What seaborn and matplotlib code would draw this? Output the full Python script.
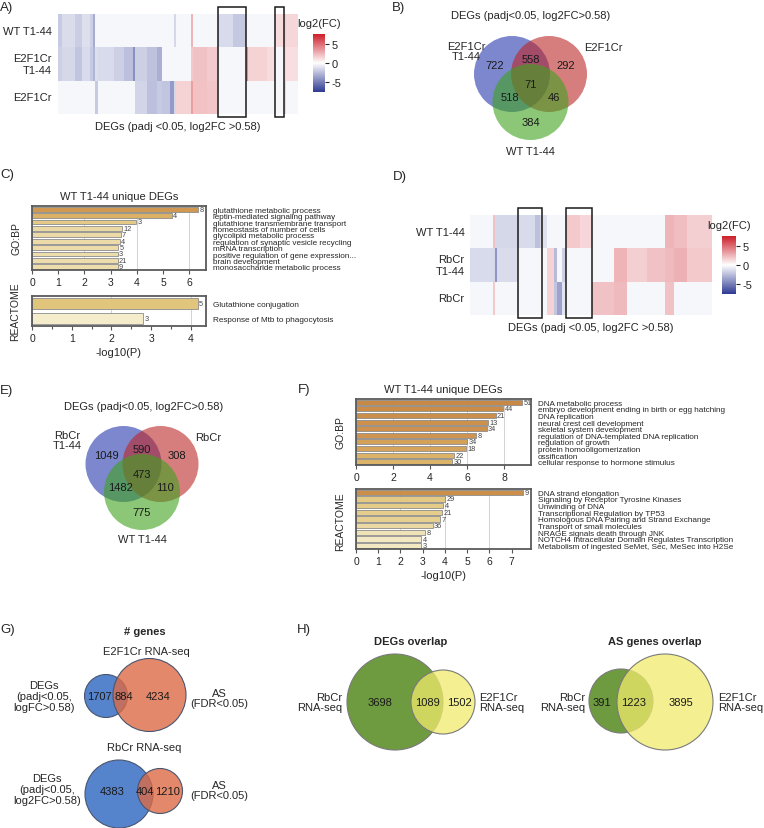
import numpy as np
import pandas as pd
import matplotlib
matplotlib.use("Agg")
import matplotlib.pyplot as plt
import seaborn as sns
from matplotlib.patches import Circle, Rectangle
from matplotlib.colors import LinearSegmentedColormap, to_rgba

# ---------------- data ----------------
# A) heatmap: blocks of DEGs (genes per block) and log2FC per row
a_rows = ["WT T1-44", "E2F1Cr\nT1-44", "E2F1Cr"]
a_genes = [47, 143, 72, 90, 29, 25, 25, 172, 107, 100, 25, 125, 107, 54, 90,
           43, 18, 161, 21, 150, 125, 161, 132, 29, 197, 90, 90, 29, 132]
a_wt = [-2.0, -1.3, -1.9, -1.2, -1.8, -3.2, -0.3, -0.3, -0.3, -0.3, -0.3, -0.3, -0.3, -0.3, -0.3,
        -0.3, -1.5, -0.3, 2.5, -0.3, -0.3, -1.4, -2.1, -0.3, -0.3, -0.3, 1.2, 1.6, 1.3]
a_e2t = [-1.8, -1.5, -2.2, -1.4, -2.0, -2.8, -1.2, -1.4, -1.8, -2.4, -4.2, -1.8, -2.3, -3.0, -0.3,
         -0.3, -0.3, -0.3, 1.8, 2.0, 1.7, -0.3, -0.3, 4.0, 1.5, 1.2, -0.3, 1.3, 1.1]
a_e2 = [-0.3, -0.3, -0.3, -0.3, -0.3, -0.3, -2.0, -0.3, -0.3, -0.3, -0.3, -1.6, -2.4, -2.0, -2.2,
        -3.8, -1.5, 1.5, 3.2, 2.1, 1.9, -0.3, -0.3, -0.3, -0.3, -0.3, -0.3, 1.5, -0.3]
a_boxes = [(21, 23), (26, 27)]  # WT T1-44 unique blocks

# D) heatmap
d_rows = ["WT T1-44", "RbCr\nT1-44", "RbCr"]
d_genes = [462, 33, 46, 416, 330, 99, 46, 86, 145, 53, 99, 86, 277, 244, 416, 264, 396, 363, 165, 264, 495]
d_wt = [-0.3, 2.0, -1.5, -1.5, -1.4, -2.4, -1.6, -1.1, -0.3, -0.3, -0.3, -0.3, 1.8, 1.4, -0.3,
        -0.3, -0.3, -0.3, 2.5, 2.2, 1.6]
d_rbt = [-1.4, -1.5, -4.0, -1.3, -0.3, -0.3, -0.3, -0.3, 1.5, -2.6, -0.3, -1.8, -0.3, -0.3, -0.3,
         2.5, 1.6, 2.0, 2.3, 2.6, 1.8]
d_rb = [-0.3, 1.8, -0.3, -0.3, -0.3, -0.3, -0.3, -0.3, 1.5, -2.2, -3.5, -1.0, -0.3, -0.3, 2.0,
        2.3, -0.3, -0.3, 2.0, -0.3, -0.3]
d_boxes = [(4, 7), (12, 14)]

# B) / E) three-way Venn counts: A, AB, B, AC, ABC, BC, C
b_sets = ["E2F1Cr\nT1-44", "E2F1Cr", "WT T1-44"]
b_counts = [722, 558, 292, 518, 71, 46, 384]
e_sets = ["RbCr\nT1-44", "RbCr", "WT T1-44"]
e_counts = [1049, 590, 308, 1482, 473, 110, 775]

# C) enrichment, WT T1-44 unique DEGs
c_bp_terms = ["glutathione metabolic process", "leptin-mediated signaling pathway",
              "glutathione transmembrane transport", "homeostasis of number of cells",
              "glycolipid metabolic process", "regulation of synaptic vesicle recycling",
              "mRNA transcription", "positive regulation of gene expression...",
              "brain development", "monosaccharide metabolic process"]
c_bp_logp = [6.35, 5.34, 3.98, 3.43, 3.39, 3.34, 3.30, 3.28, 3.27, 3.27]
c_bp_genes = [8, 4, 3, 12, 7, 4, 5, 3, 21, 9]
c_re_terms = ["Glutathione conjugation", "Response of Mtb to phagocytosis"]
c_re_logp = [4.17, 2.80]
c_re_genes = [5, 3]

# F) enrichment
f_bp_terms = ["DNA metabolic process", "embryo development ending in birth or egg hatching",
              "DNA replication", "neural crest cell development", "skeletal system development",
              "regulation of DNA-templated DNA replication", "regulation of growth",
              "protein homooligomerization", "ossification", "cellular response to hormone stimulus"]
f_bp_logp = [9.0, 7.97, 7.55, 7.12, 7.06, 6.49, 6.02, 5.95, 5.30, 5.20]
f_bp_genes = [51, 44, 21, 13, 34, 8, 34, 18, 22, 30]
f_re_terms = ["DNA strand elongation", "Signaling by Receptor Tyrosine Kinases", "Unwinding of DNA",
              "Transcriptional Regulation by TP53", "Homologous DNA Pairing and Strand Exchange",
              "Transport of small molecules", "NRAGE signals death through JNK",
              "NOTCH4 Intracellular Domain Regulates Transcription",
              "Metabolism of ingested SeMet, Sec, MeSec into H2Se"]
f_re_logp = [7.52, 4.0, 3.93, 3.88, 3.78, 3.45, 3.10, 2.93, 2.93]
f_re_genes = [9, 29, 4, 21, 7, 36, 8, 4, 3]

# G) DEGs vs AS genes (only, both, only)
g_top_sets = ["DEGs\n(padj<0.05,\nlogFC>0.58)", "AS\n(FDR<0.05)"]
g_top_counts = [1707, 884, 4234]
g_bot_sets = ["DEGs\n(padj<0.05,\nlog2FC>0.58)", "AS\n(FDR<0.05)"]
g_bot_counts = [4383, 404, 1210]

# H) RbCr vs E2F1Cr
h_sets = ["RbCr\nRNA-seq", "E2F1Cr\nRNA-seq"]
h_deg_counts = [3698, 1089, 1502]
h_as_counts = [391, 1223, 3895]

# ---------------- figure ----------------
W, H = 764, 829
sns.set_style("white")
plt.rcParams["font.family"] = ["Liberation Sans", "DejaVu Sans"]
plt.rcParams["axes.unicode_minus"] = False

fc_cmap = LinearSegmentedColormap.from_list("fc", ["#2e3a92", "#ffffff", "#cc1f2a"])
bar_cmap = LinearSegmentedColormap.from_list(
    "enrich", [(0.0, "#fdf8d8"), (0.13, "#f8e2a0"), (0.28, "#f3cc6a"),
               (0.5, "#eeb450"), (0.67, "#e4963a"), (1.0, "#df8a30")])
bar_norm = plt.Normalize(2.5, 8.5, clip=True)

fig = plt.figure(figsize=(W / 100, H / 100), dpi=100)


def px_axes(x0, y0, x1, y1):
    return fig.add_axes([x0 / W, 1 - y1 / H, (x1 - x0) / W, (y1 - y0) / H])


ov = px_axes(0, 0, W, H)
ov.set_xlim(0, W)
ov.set_ylim(H, 0)
ov.axis("off")


def heatmap_panel(box, cbox, rows, genes, values, boxes):
    ax = px_axes(*box)
    cax = px_axes(*cbox)
    mat = np.repeat(np.array(values, dtype=float), genes, axis=1)
    df = pd.DataFrame(mat, index=rows)
    sns.heatmap(df, ax=ax, cbar_ax=cax, cmap=fc_cmap, vmin=-7.5, vmax=7.5,
                xticklabels=False, yticklabels=rows, rasterized=True)
    ax.tick_params(axis="y", length=0, pad=4, labelsize=8)
    plt.setp(ax.get_yticklabels(), rotation=0, ha="right")
    ax.set_xlabel("DEGs (padj <0.05, log2FC >0.58)", fontsize=8, labelpad=5)
    edges = np.concatenate([[0], np.cumsum(genes)])
    for s, e in boxes:
        ax.add_patch(Rectangle((edges[s], -0.22), edges[e] - edges[s], 3.32, fill=False,
                               ec="#1a1a1a", lw=1.1, clip_on=False, zorder=5))
    cax.set_yticks([-5, 0, 5])
    cax.tick_params(labelsize=8, length=3, width=0.8, pad=2)
    cax.set_title("log2(FC)", fontsize=8, pad=6)


def bar_panel(box, terms, logp, genes, xmax, ticks, grid, minor=None, title=None, xlabel=None):
    ax = px_axes(*box)
    df = pd.DataFrame({"term": terms, "logp": logp})
    colors = [bar_cmap(bar_norm(v)) for v in logp]
    sns.barplot(data=df, x="logp", y="term", hue="term", palette=colors, legend=False,
                orient="h", width=0.78, edgecolor="#8c8c8c", linewidth=0.6, ax=ax)
    for i, (v, n) in enumerate(zip(logp, genes)):
        ax.text(v + xmax * 0.007, i, str(n), fontsize=5.3, va="center", ha="left", color="#444444")
    ax.set_axisbelow(True)
    for g in grid:
        ax.axvline(g, color="#d2d2d2", lw=0.7, zorder=0)
    ax.set_xlim(0, xmax)
    ax.set_xticks(ticks)
    if minor is not None:
        ax.set_xticks(minor, minor=True)
    ax.yaxis.tick_right()
    ax.set_yticks(range(len(terms)))
    ax.set_yticklabels(terms, fontsize=5.9, linespacing=0.9)
    ax.tick_params(axis="y", length=0, pad=5)
    ax.tick_params(axis="x", which="both", bottom=True, length=3, width=0.8, color="#555555",
                   labelsize=7.5, pad=2)
    ax.tick_params(axis="x", which="minor", length=2)
    ax.set_ylabel("")
    ax.set_xlabel(xlabel if xlabel else "", fontsize=8, labelpad=3)
    if title:
        ax.set_title(title, fontsize=8, pad=5)
    for sp in ax.spines.values():
        sp.set_color("#5a5a5a")
        sp.set_linewidth(1.3)


def venn3(centre, counts, sets, label_pos, title, title_pos):
    cx, cy = centre
    offsets = [(-18.5, -10), (18.5, -10), (0, 18)]
    colors = ["#2637ac", "#bc2626", "#3fa31e"]
    for (dx, dy), c in zip(offsets, colors):
        ov.add_patch(Circle((cx + dx, cy + dy), 38, fc=to_rgba(c, 0.6), ec="none"))
    spots = [(-36, -19), (0, -25), (35, -19), (-21, 13), (0, 0), (23, 13), (0, 38)]
    for (dx, dy), n in zip(spots, counts):
        ov.text(cx + dx, cy + dy, str(n), ha="center", va="center", fontsize=8, color="#1a1a1a")
    for (x, y), s in zip(label_pos, sets):
        ov.text(x, y, s, ha="center", va="center", fontsize=8, linespacing=1.1)
    ov.text(*title_pos, title, ha="center", va="center", fontsize=8)


def venn2(c1, r1, c2, r2, col1, col2, alpha, counts, spots, edge):
    ov.add_patch(Circle(c1, r1, fc=to_rgba(col1, alpha), ec=edge, lw=0.8))
    ov.add_patch(Circle(c2, r2, fc=to_rgba(col2, alpha), ec=edge, lw=0.8))
    for (x, y), n in zip(spots, counts):
        ov.text(x, y, str(n), ha="center", va="center", fontsize=8, color="#1a1a1a")


# panel letters
for letter, x, y in [("A)", 0, 8), ("B)", 392, 8), ("C)", 0, 175), ("D)", 393, 177),
                     ("E)", 0, 391), ("F)", 298, 390), ("G)", 0, 630), ("H)", 297, 630)]:
    ov.text(x, y, letter, ha="left", va="center", fontsize=9.5)

# A and D heatmaps
heatmap_panel((57.5, 15, 298.5, 115), (313, 35, 325, 93), a_rows, a_genes, [a_wt, a_e2t, a_e2], a_boxes)
heatmap_panel((470, 216, 712, 316), (722, 237, 736, 295), d_rows, d_genes, [d_wt, d_rbt, d_rb], d_boxes)

# B and E Venns
venn3((530.5, 85), b_counts, b_sets, [(466, 52), (603, 48), (530, 152)],
      "DEGs (padj<0.05, log2FC>0.58)", (531, 16))
venn3((142, 475), e_counts, e_sets, [(67, 441), (208, 438), (142, 540)],
      "DEGs (padj<0.05, log2FC>0.58)", (144, 407))

# C enrichment
bar_panel((32, 207, 206, 271), c_bp_terms, c_bp_logp, c_bp_genes, 6.64, range(0, 7), [2, 4, 6],
          title="WT T1-44 unique DEGs")
bar_panel((32, 297, 206, 327), c_re_terms, c_re_logp, c_re_genes, 4.38, range(0, 5), [2, 4],
          minor=np.arange(0.5, 4.4, 1), xlabel="-log10(P)")
ov.text(17, 239, "GO:BP", rotation=90, ha="center", va="center", fontsize=7.5)
ov.text(15, 312, "REACTOME", rotation=90, ha="center", va="center", fontsize=7.5)

# F enrichment
bar_panel((356, 400, 531, 466), f_bp_terms, f_bp_logp, f_bp_genes, 9.46, range(0, 10, 2), [2, 4, 6, 8],
          title="WT T1-44 unique DEGs")
bar_panel((356, 490, 531, 550), f_re_terms, f_re_logp, f_re_genes, 7.87, range(0, 8), [2, 4, 6],
          xlabel="-log10(P)")
ov.text(341, 433, "GO:BP", rotation=90, ha="center", va="center", fontsize=7.5)
ov.text(340, 522, "REACTOME", rotation=90, ha="center", va="center", fontsize=7.5)

# G
ov.text(145, 632, "# genes", ha="center", va="center", fontsize=8, fontweight="bold")
ov.text(146, 652, "E2F1Cr RNA-seq", ha="center", va="center", fontsize=8)
venn2((106, 697), 21.5, (149.5, 696), 36.5, "#2a66c0", "#dc6a45", 0.8, g_top_counts,
      [(99, 697), (124, 697), (158, 697)], "#4a5570")
ov.text(44, 697, g_top_sets[0], ha="center", va="center", fontsize=8, linespacing=1.1)
ov.text(219, 699, g_top_sets[1], ha="center", va="center", fontsize=8, linespacing=1.1)
ov.text(144, 748, "RbCr RNA-seq", ha="center", va="center", fontsize=8)
venn2((119, 795), 34, (160, 792), 22.5, "#2a66c0", "#dc6a45", 0.8, g_bot_counts,
      [(112, 792), (145, 792), (168, 792)], "#4a5570")
ov.text(47, 790, g_bot_sets[0], ha="center", va="center", fontsize=8, linespacing=1.1)
ov.text(219, 791, g_bot_sets[1], ha="center", va="center", fontsize=8, linespacing=1.1)

# H
ov.text(411, 642, "DEGs overlap", ha="center", va="center", fontsize=8, fontweight="bold")
venn2((395, 703), 48, (443, 703), 32, "#3d7900", "#f1eb6c", 0.75, h_deg_counts,
      [(380, 703), (427, 703), (459, 703)], "#7a7a7a")
ov.text(342, 703, h_sets[0], ha="right", va="center", fontsize=8, linespacing=1.1)
ov.text(479, 703, h_sets[1], ha="left", va="center", fontsize=8, linespacing=1.1)

ov.text(655, 642, "AS genes overlap", ha="center", va="center", fontsize=8, fontweight="bold")
venn2((621, 702), 32, (665, 703), 48, "#3d7900", "#f1eb6c", 0.75, h_as_counts,
      [(602, 703), (634, 703), (681, 703)], "#7a7a7a")
ov.text(585, 703, h_sets[0], ha="right", va="center", fontsize=8, linespacing=1.1)
ov.text(718, 703, h_sets[1], ha="left", va="center", fontsize=8, linespacing=1.1)

fig.savefig("out.png", dpi=100)
